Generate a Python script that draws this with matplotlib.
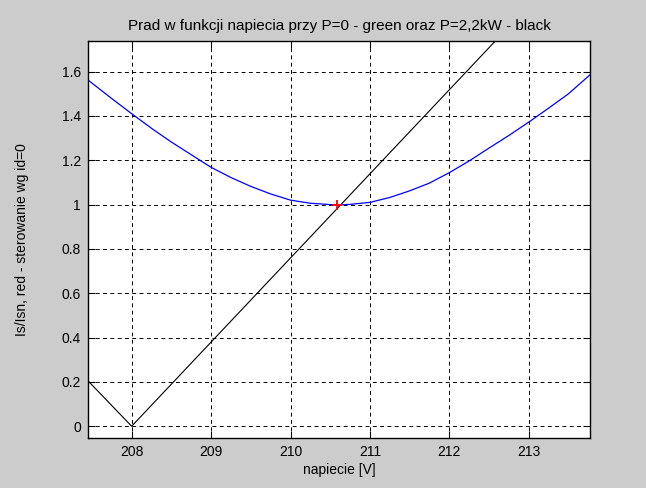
import matplotlib
matplotlib.use('Agg')
import matplotlib.pyplot as plt

# values
napiecie = [207.45, 207.75, 208.0, 208.25, 208.5, 208.75, 209.0, 209.25, 209.5, 209.75,
            210.0, 210.25, 210.5, 210.6, 210.75, 211.0, 211.25, 211.5, 211.75, 212.0,
            212.25, 212.5, 212.75, 213.0, 213.25, 213.5, 213.77]
prad_p0 = [1.562, 1.478, 1.41, 1.344, 1.282, 1.225, 1.168, 1.122, 1.082, 1.048,
           1.02, 1.006, 1.0, 0.998, 1.001, 1.01, 1.032, 1.062, 1.097, 1.144,
           1.197, 1.255, 1.312, 1.372, 1.435, 1.50, 1.585]

napiecie_p22 = [207.45, 208.0, 213.77]
prad_p22 = [0.205, 0.0, 2.19]

punkt_x = [210.58]
punkt_y = [1.0]

xticks = [208, 209, 210, 211, 212, 213]
yticks = [0, 0.2, 0.4, 0.6, 0.8, 1, 1.2, 1.4, 1.6]
ytick_labels = ['0', '0.2', '0.4', '0.6', '0.8', '1', '1.2', '1.4', '1.6']

plt.rcParams['font.family'] = ['Liberation Sans', 'DejaVu Sans']

fig = plt.figure(figsize=(6.46, 4.88), dpi=100, facecolor='#cccccc')
ax = fig.add_axes([0.1362, 0.1025, 0.777, 0.8135])
ax.set_facecolor('white')

ax.plot(napiecie, prad_p0, color='#0000ff', lw=0.9)
ax.plot(napiecie_p22, prad_p22, color='black', lw=0.8)
ax.plot(punkt_x, punkt_y, '+', color='red', ms=7, mew=1.3)

ax.set_xlim(207.45, 213.77)
ax.set_ylim(-0.053, 1.738)
ax.set_xticks(xticks)
ax.set_yticks(yticks)
ax.set_yticklabels(ytick_labels)

ax.grid(True, color='black', linestyle=(0, (4, 3.5)), lw=0.7)
ax.tick_params(direction='in', top=True, right=True, length=5, width=0.8,
               labelsize=10, pad=5)
for s in ax.spines.values():
    s.set_linewidth(1.0)

ax.set_title('Prad w funkcji napiecia przy P=0 - green oraz P=2,2kW - black',
             fontsize=11, pad=8)
ax.set_xlabel('napiecie [V]', fontsize=10, labelpad=3)
ax.set_ylabel('Is/Isn, red - sterowanie wg id=0', fontsize=10)
ax.yaxis.set_label_coords(-0.117, 0.5)

fig.savefig('out.png', dpi=100, facecolor=fig.get_facecolor())
